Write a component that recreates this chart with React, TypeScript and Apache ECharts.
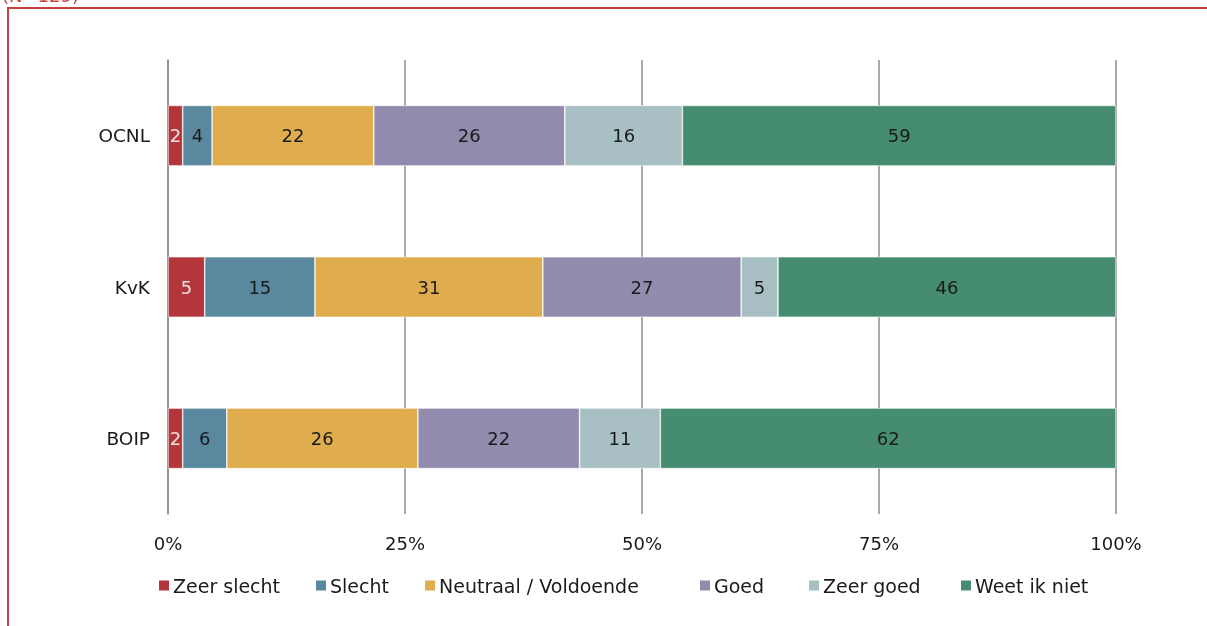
import React, { useEffect, useRef } from "react";
import * as echarts from "echarts";

const categories = ["OCNL", "KvK", "BOIP"];
const seriesNames = ["Zeer slecht", "Slecht", "Neutraal / Voldoende", "Goed", "Zeer goed", "Weet ik niet"];
const zeerSlecht = [2, 5, 2];
const slecht = [4, 15, 6];
const neutraal = [22, 31, 26];
const goed = [26, 27, 22];
const zeerGoed = [16, 5, 11];
const weetIkNiet = [59, 46, 62];
const colors = ["#B3373A", "#5A889E", "#DFAD4D", "#938BAD", "#A8C0C3", "#468C70"];
const labelColors = ["#F0E0E0", "#1a1a1a", "#1a1a1a", "#1a1a1a", "#1a1a1a", "#1a1a1a"];
const legendLefts = [157, 314, 423, 698, 807, 959];
const xTicks = [0, 25, 50, 75, 100];
const title = "(N=129)";

const FONT = "'DejaVu Sans', sans-serif";

export default function App() {
  const ref = useRef<HTMLDivElement>(null);
  useEffect(() => {
    if (!ref.current) return;
    const chart = echarts.init(ref.current, undefined, { renderer: "svg" });
    const all = [zeerSlecht, slecht, neutraal, goed, zeerGoed, weetIkNiet];
    const totals = categories.map((_, i) => all.reduce((s, arr) => s + arr[i], 0));
    chart.setOption({
      animation: false,
      textStyle: { fontFamily: FONT },
      grid: { left: 168, right: 91, top: 60, bottom: 112, containLabel: false },
      legend: seriesNames.map((n, i) => ({
        left: legendLefts[i],
        top: 576,
        itemWidth: 12,
        itemHeight: 12,
        padding: 0,
        icon: "rect",
        textStyle: { fontSize: 19, color: "#1a1a1a", fontFamily: FONT, padding: [0, 0, 0, -2] },
        data: [n],
      })),
      xAxis: {
        type: "value",
        min: xTicks[0],
        max: xTicks[xTicks.length - 1],
        interval: 25,
        axisLine: { show: false },
        axisTick: { show: false },
        splitLine: { show: true, lineStyle: { color: "#8c8c8c", width: 1.5 } },
        axisLabel: { formatter: "{value}%", fontSize: 18, color: "#1a1a1a", margin: 20 },
      },
      yAxis: {
        type: "category",
        inverse: true,
        data: categories,
        axisLine: { show: true, lineStyle: { color: "#8c8c8c", width: 1.5 } },
        axisTick: { show: false },
        axisLabel: { fontSize: 18.5, color: "#1a1a1a", margin: 18 },
      },
      graphic: [
        {
          type: "rect",
          shape: { x: 8, y: 8, width: 1400, height: 800 },
          style: { fill: "none", stroke: "#C8413F", lineWidth: 2 },
        },
        {
          type: "text",
          left: 2,
          top: -14,
          style: { text: title, fontSize: 18, fill: "#C8413F", fontFamily: FONT },
        },
      ],
      series: all.map((arr, si) => ({
        name: seriesNames[si],
        type: "bar",
        stack: "total",
        barCategoryGap: "60%",
        itemStyle: { color: colors[si], borderColor: "#ffffff", borderWidth: 0.6 },
        label: {
          show: true,
          position: "inside",
          fontSize: 18,
          color: labelColors[si],
          fontFamily: FONT,
          formatter: (p: any) => String(arr[p.dataIndex]),
        },
        data: arr.map((v, i) => (v / totals[i]) * 100),
      })),
    });
    return () => chart.dispose();
  }, []);
  return <div ref={ref} style={{ position: "fixed", left: 0, top: 0, width: 1207, height: 626 }} />;
}
